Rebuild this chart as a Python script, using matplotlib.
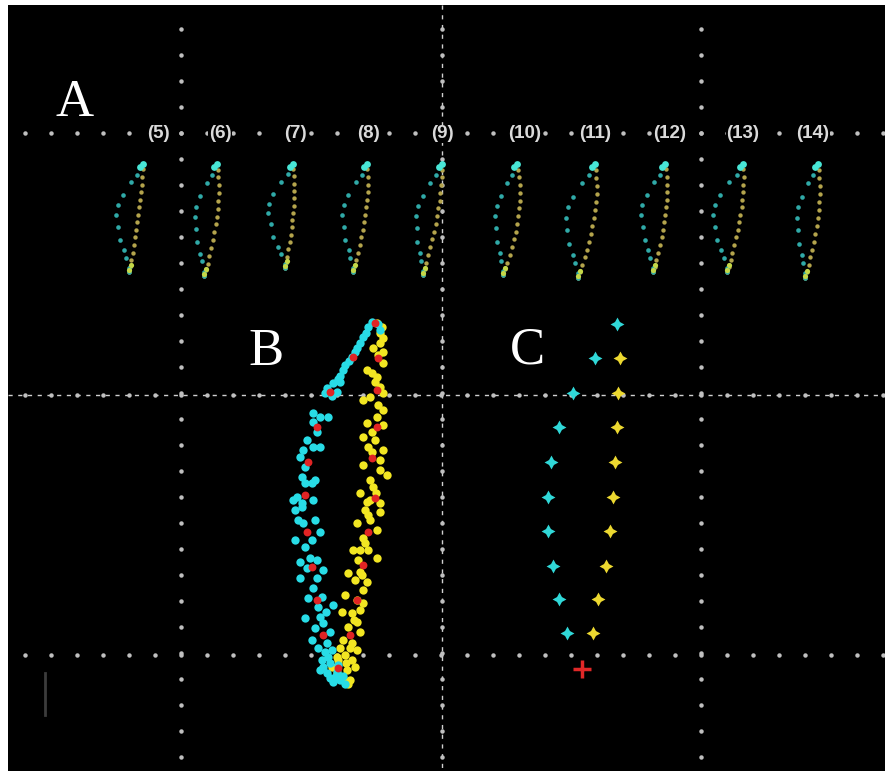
import numpy as np
import matplotlib.pyplot as plt
from matplotlib.patches import Rectangle

W, H = 885, 771

# ---- panel A: one small loop per frame ----
frame_labels = ['(5)', '(6)', '(7)', '(8)', '(9)', '(10)', '(11)', '(12)', '(13)', '(14)']
label_x = [158, 220, 295, 368, 442, 525, 595, 670, 743, 813]
loop_top_x = [143, 217, 293, 367, 442, 517, 595, 665, 743, 818]
loop_bot_x = [129, 204, 285, 353, 423, 503, 578, 653, 727, 805]
loop_bot_y = [272, 276, 268, 272, 275, 275, 278, 272, 272, 278]
cyan_bulge = [20, 16, 21, 18, 17, 15, 21, 18, 22, 15]
yellow_bulge = [2, 6, 4, 5, 4, 8, 7, 6, 5, 6]
# loop shape: fraction of the way down, sideways offset as fraction of bulge
cyan_frac = [0.0, 0.10, 0.17, 0.29, 0.38, 0.47, 0.58, 0.70, 0.80, 0.87, 0.96, 1.0]
cyan_off = [0, -0.22, -0.5, -0.82, -1.0, -1.0, -0.85, -0.67, -0.4, -0.25, -0.03, 0]
yellow_frac = [0.05, 0.12, 0.19, 0.26, 0.33, 0.40, 0.47, 0.54, 0.61, 0.68, 0.75, 0.82, 0.89, 0.95, 1.0]
yellow_off = [0.2, 0.5, 0.7, 0.85, 0.95, 1, 1, 0.95, 0.9, 0.8, 0.65, 0.5, 0.35, 0.15, 0]

# ---- panel B: raw points ----
b_cyan_x = [372, 378, 368, 380, 366, 363, 360, 357, 355, 352, 349, 345, 343, 340, 338, 333, 327, 325,
            337, 340, 332, 313, 320, 328, 313, 317, 307, 303, 313, 320, 300, 305, 302, 305, 312, 315,
            297, 293, 302, 313, 295, 302, 298, 303, 315, 320, 295, 312, 305, 300, 310, 317, 307, 323,
            300, 317, 313, 308, 322, 333, 305, 320, 323, 315, 330, 312, 318, 327, 328, 322, 330, 320,
            327, 335, 340, 333, 323, 337, 343, 330, 345, 325, 332, 338, 318, 326]
b_cyan_y = [322, 324, 327, 330, 333, 337, 343, 348, 352, 357, 361, 365, 370, 376, 379, 383, 388, 393,
            392, 382, 396, 413, 417, 417, 422, 432, 440, 450, 447, 447, 457, 467, 477, 483, 483, 480,
            497, 500, 503, 500, 510, 507, 520, 523, 520, 532, 540, 540, 547, 562, 558, 560, 568, 570,
            578, 578, 588, 598, 597, 605, 618, 617, 623, 628, 632, 640, 648, 643, 657, 660, 663, 670,
            673, 677, 680, 682, 667, 672, 676, 678, 684, 652, 650, 665, 607, 612]
b_yellow_x = [377, 382, 380, 383, 380, 373, 383, 378, 383, 367, 372, 377, 375, 380, 383, 363, 370, 378,
              383, 377, 367, 383, 372, 363, 375, 368, 383, 363, 380, 380, 387, 370, 373, 360, 367, 380,
              370, 380, 365, 357, 370, 377, 363, 353, 360, 368, 377, 358, 360, 348, 355, 367, 363, 345,
              357, 363, 342, 352, 360, 357, 348, 360, 343, 352, 340, 357, 345, 337, 352, 347, 337, 343,
              332, 350, 338, 355, 348, 372, 376, 368, 365, 362, 354, 350, 346]
b_yellow_y = [323, 327, 333, 338, 343, 348, 352, 355, 363, 370, 373, 377, 382, 387, 393, 400, 397, 405,
              410, 417, 423, 425, 432, 437, 440, 447, 450, 465, 460, 470, 475, 480, 487, 493, 502, 503,
              500, 512, 510, 523, 520, 530, 538, 550, 550, 550, 558, 560, 572, 573, 580, 582, 590, 595,
              600, 603, 612, 613, 610, 622, 627, 632, 640, 643, 648, 650, 655, 657, 660, 670, 673, 678,
              667, 680, 660, 667, 684, 452, 493, 515, 543, 575, 620, 648, 663]
b_red_x = [375, 353, 330, 317, 308, 305, 307, 312, 317, 323, 338,
           378, 377, 377, 372, 375, 368, 363, 357, 350]
b_red_y = [323, 357, 392, 427, 462, 495, 532, 567, 600, 635, 668,
           358, 390, 427, 458, 498, 532, 565, 600, 635]

# ---- panel C: averaged points ----
c_cyan_x = [617, 595, 573, 559, 551, 548, 548, 553, 559, 567]
c_cyan_y = [324, 358, 393, 427, 462, 497, 531, 566, 599, 633]
c_yellow_x = [620, 618, 617, 615, 613, 610, 606, 598, 593]
c_yellow_y = [358, 393, 427, 462, 497, 531, 566, 599, 633]
c_origin = (582, 669)


def draw_grid(ax):
    dot = dict(color='#c0c0c0', marker='o', ms=2.2, ls='none', zorder=1)
    xs = np.arange(25, W, 26)
    ys = np.arange(29, H, 26)
    for y0 in (133, 655):
        ax.plot(xs, np.full(len(xs), y0), **dot)
    for x0 in (181, 701):
        ax.plot(np.full(len(ys), x0), ys, **dot)
    # centre lines are dashed
    ax.plot([8, W], [395, 395], color='#d0d0d0', lw=1, ls=(0, (3, 4)), zorder=1)
    ax.plot([442, 442], [5, H], color='#d0d0d0', lw=1, ls=(0, (3, 4)), zorder=1)
    ax.plot(xs, np.full(len(xs), 395), **dot)
    ax.plot(np.full(len(ys), 442), ys, **dot)


def draw_panel_a(ax):
    for i, lab in enumerate(frame_labels):
        ax.text(label_x[i], 134, lab, color='#dadada', fontsize=13.5, fontweight='bold',
                ha='center', va='center', family='Liberation Sans', zorder=3,
                bbox=dict(facecolor='black', edgecolor='none', pad=0.5))
        top, bot, by = loop_top_x[i], loop_bot_x[i], loop_bot_y[i]
        cf = np.array(cyan_frac)
        yf = np.array(yellow_frac)
        cx = top + cf * (bot - top) + np.array(cyan_off) * cyan_bulge[i]
        cy = 164 + cf * (by - 164)
        yx = top + yf * (bot - top) + np.array(yellow_off) * yellow_bulge[i]
        yy = 164 + yf * (by - 164)
        ax.scatter(yx, yy, s=10, color='#b4a44c', lw=0, zorder=4)
        ax.scatter(cx, cy, s=11, color='#30aaa8', lw=0, zorder=4)
        ax.scatter([top, top - 3], [164, 167], s=24, color='#48e6d6', lw=0, zorder=5)
        ax.scatter([bot, bot + 2], [by - 2, by - 7], s=14, color='#c4d848', lw=0, zorder=5)


def draw_panel_b(ax):
    ax.scatter(b_yellow_x, b_yellow_y, s=36, color='#f2e622', lw=0, zorder=4)
    ax.scatter(b_cyan_x, b_cyan_y, s=36, color='#28dce6', lw=0, zorder=5)
    ax.scatter(b_red_x, b_red_y, s=32, color='#e02424', lw=0, zorder=6)


def draw_panel_c(ax):
    ax.scatter(c_cyan_x, c_cyan_y, s=100, marker=(4, 1, 0), color='#30d8d8', lw=0, zorder=4)
    ax.scatter(c_yellow_x, c_yellow_y, s=100, marker=(4, 1, 0), color='#ecd830', lw=0, zorder=4)
    ax.scatter([c_origin[0]], [c_origin[1]], s=160, marker='+', color='#e02828', lw=2.5, zorder=5)


fig = plt.figure(figsize=(W / 100, H / 100), dpi=100, facecolor='white')
ax = fig.add_axes([0, 0, 1, 1])
ax.set_xlim(0, W)
ax.set_ylim(H, 0)
ax.axis('off')
ax.add_patch(Rectangle((8, 5), W - 8, H - 5, facecolor='black', edgecolor='none', zorder=0))

draw_grid(ax)
draw_panel_a(ax)
draw_panel_b(ax)
draw_panel_c(ax)

for letter, x, y in (('A', 75, 103), ('B', 266, 352), ('C', 527, 351)):
    ax.text(x, y, letter, color='white', fontsize=38, family='Liberation Serif',
            ha='center', va='center', zorder=6)

# faint scale bar, lower left
ax.plot([45, 45], [673, 715], color='#3c3c3c', lw=2, zorder=2)

fig.savefig('out.png', dpi=100, facecolor='white')
